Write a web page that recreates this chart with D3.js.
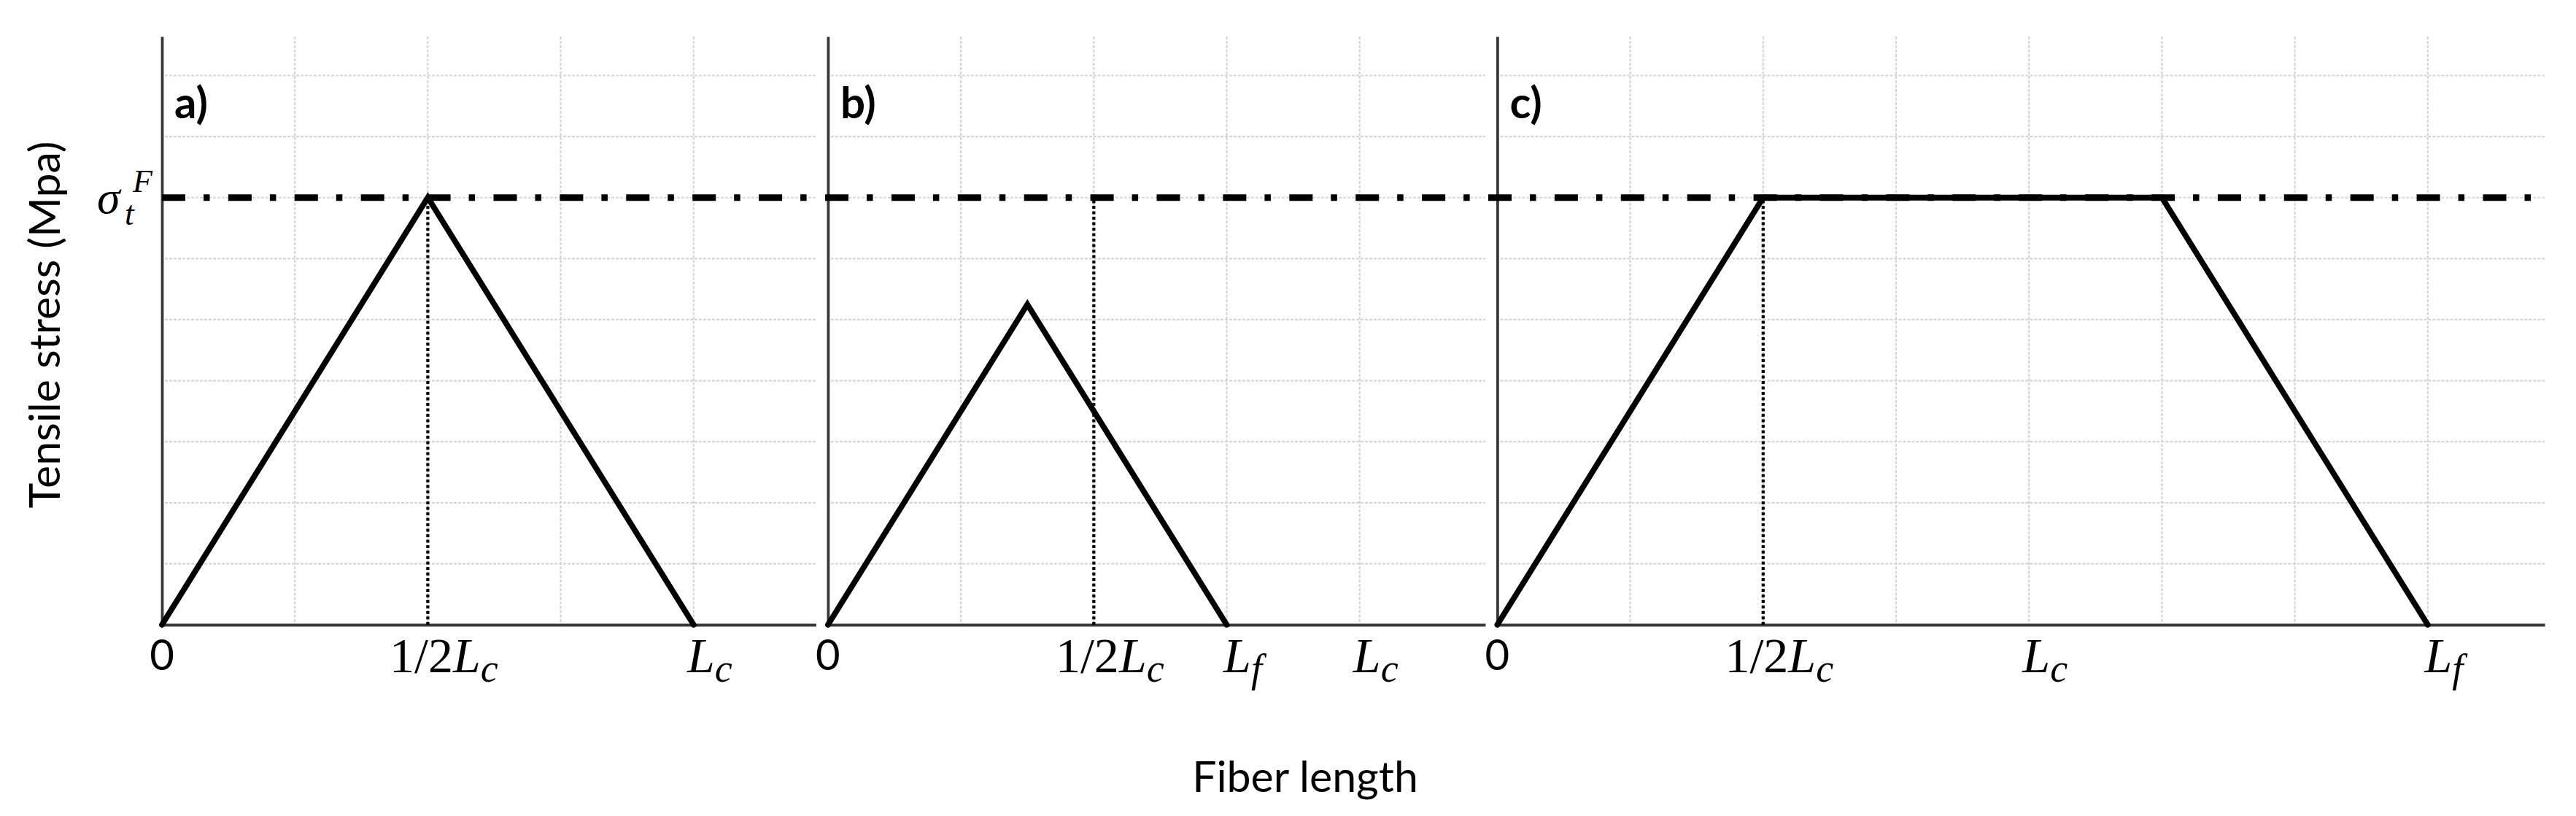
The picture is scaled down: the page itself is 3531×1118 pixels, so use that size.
<!DOCTYPE html>
<html><head><meta charset="utf-8">
<script src="https://cdn.jsdelivr.net/npm/d3@7"></script>
<style>html,body{margin:0;padding:0;background:#fff;} svg{display:block;}</style>
</head><body>
<svg id="chart" width="3531" height="1118"></svg>
<script>
// ---------- data ----------
const panelNames = ["a)", "b)", "c)"];
const panelXMax = [4.92, 4.945, 7.88];      // axis extent, in grid units
const yMax = 9.64;                           // axis extent, in grid units
const yGridValues = [1, 2, 3, 4, 5, 6, 7, 8, 9];
const sigmaLevel = 7;                        // sigma_t^F
const halfLcValue = 2;                       // 1/2 Lc (dotted guide)

const seriesAX = [0, 2, 4],       seriesAY = [0, 7, 0];
const seriesBX = [0, 1.5, 3],     seriesBY = [0, 5.25, 0];
const seriesCX = [0, 2, 5, 7],    seriesCY = [0, 7, 7, 0];

const ticksA = [0, 2, 4],         tickLabelsA = ["0", "1/2L_c", "L_c"];
const ticksB = [0, 2, 3, 4],      tickLabelsB = ["0", "1/2L_c", "L_f", "L_c"];
const ticksC = [0, 2, 4, 7],      tickLabelsC = ["0", "1/2L_c", "L_c", "L_f"];

const yTitle = "Tensile stress (Mpa)";
const xTitle = "Fiber length";

// ---------- layout ----------
const svg = d3.select("#chart");
const left0 = 222, unit = 182.2, gap = 16.5;
const yTop = 50, yBottom = 856;
const y = d3.scaleLinear().domain([0, yMax]).range([yBottom, yTop]);

const seriesX = [seriesAX, seriesBX, seriesCX];
const seriesY = [seriesAY, seriesBY, seriesCY];
const ticks = [ticksA, ticksB, ticksC];
const tickLabels = [tickLabelsA, tickLabelsB, tickLabelsC];

let cursor = left0;
const xs = panelXMax.map(m => {
  const s = d3.scaleLinear().domain([0, m]).range([cursor, cursor + m * unit]);
  cursor += m * unit + gap;
  return s;
});

const gGrid = svg.append("g");
const gAxes = svg.append("g");
const gGuides = svg.append("g");
const gData = svg.append("g");
const gText = svg.append("g");

const gridStyle = sel => sel.attr("stroke", "#d6d6d6").attr("stroke-width", 2.2).attr("stroke-dasharray", "4,2").attr("fill", "none");

xs.forEach((x, i) => {
  const [x0, x1] = x.range();
  // horizontal gridlines
  gGrid.selectAll(null).data(yGridValues).enter().append("line")
    .attr("x1", x0 + 4).attr("x2", x1).attr("y1", d => y(d)).attr("y2", d => y(d)).call(gridStyle);
  // vertical gridlines
  const vx = d3.range(1, Math.floor(panelXMax[i]) + 1);
  gGrid.selectAll(null).data(vx).enter().append("line")
    .attr("x1", d => x(d)).attr("x2", d => x(d)).attr("y1", y(yMax)).attr("y2", y(0)).call(gridStyle);

  // axes
  const ax = gAxes.append("g").attr("transform", `translate(0,${y(0)})`)
    .call(d3.axisBottom(x).tickValues([]).tickSizeOuter(0));
  const ay = gAxes.append("g").attr("transform", `translate(${x0},0)`)
    .call(d3.axisLeft(y).tickValues([]).tickSizeOuter(0));
  [ax, ay].forEach(a => a.select(".domain").attr("stroke", "#383838").attr("stroke-width", 3.8));

  // dotted guide at 1/2 Lc
  gGuides.append("line")
    .attr("x1", x(halfLcValue)).attr("x2", x(halfLcValue))
    .attr("y1", y(0)).attr("y2", y(sigmaLevel))
    .attr("stroke", "#000").attr("stroke-width", 4.2).attr("stroke-dasharray", "4,3.5");

  // data line
  const pts = seriesX[i].map((v, k) => [v, seriesY[i][k]]);
  gData.append("path").datum(pts)
    .attr("d", d3.line().x(d => x(d[0])).y(d => y(d[1])))
    .attr("fill", "none").attr("stroke", "#000").attr("stroke-width", 7.8)
    .attr("stroke-linejoin", "miter").attr("stroke-linecap", "round");

  // panel label
  gText.append("text").attr("x", x0 + 17).attr("y", 162)
    .attr("font-family", "Lato").attr("font-weight", "bold").attr("font-size", 60)
    .attr("fill", "#000").text(panelNames[i]);

  // tick labels
  ticks[i].forEach((t, k) => {
    const lab = tickLabels[i][k];
    if (!lab.includes("_")) {
      gText.append("text").attr("x", x(t)).attr("y", 918)
        .attr("text-anchor", "middle").attr("font-family", "Lato").attr("font-size", 58)
        .attr("fill", "#000").text(lab);
    } else {
      const [base, sub] = lab.split("_");
      const m = base.match(/^([^A-Za-z]*)([A-Za-z]+)$/);
      const txt = gText.append("text").attr("x", x(t) + 22).attr("y", 921)
        .attr("text-anchor", "middle").attr("font-family", "Liberation Serif")
        .attr("font-size", 68).attr("fill", "#000");
      if (m[1]) txt.append("tspan").text(m[1]);
      txt.append("tspan").attr("font-style", "italic").text(m[2]);
      txt.append("tspan").attr("font-style", "italic").attr("font-size", 54).attr("dy", 13).text(sub);
    }
  });
});

// dash-dot sigma line across all panels
gGuides.append("line")
  .attr("x1", xs[0](0)).attr("x2", xs[2].range()[1])
  .attr("y1", y(sigmaLevel)).attr("y2", y(sigmaLevel))
  .attr("stroke", "#000").attr("stroke-width", 9)
  .attr("stroke-dasharray", "32,25,8.5,25.4");

// sigma label
const ys = y(sigmaLevel);
gText.append("text").attr("x", 133).attr("y", ys + 21)
  .attr("font-family", "Liberation Serif").attr("font-style", "italic").attr("font-size", 64)
  .attr("fill", "#000").text("σ");
gText.append("text").attr("x", 171).attr("y", ys + 37)
  .attr("font-family", "Liberation Serif").attr("font-style", "italic").attr("font-size", 46)
  .attr("fill", "#000").text("t");
gText.append("text").attr("x", 182).attr("y", ys - 8)
  .attr("font-family", "Liberation Serif").attr("font-style", "italic").attr("font-size", 44)
  .attr("fill", "#000").text("F");

// axis titles
gText.append("text").attr("transform", `translate(82,${(y(0) + y(yMax)) / 2 - 8}) rotate(-90)`)
  .attr("text-anchor", "middle").attr("font-family", "Lato").attr("font-size", 59)
  .attr("fill", "#000").text(yTitle);
gText.append("text").attr("x", 1789).attr("y", 1085)
  .attr("text-anchor", "middle").attr("font-family", "Lato").attr("font-size", 59)
  .attr("fill", "#000").text(xTitle);
</script>
</body></html>
